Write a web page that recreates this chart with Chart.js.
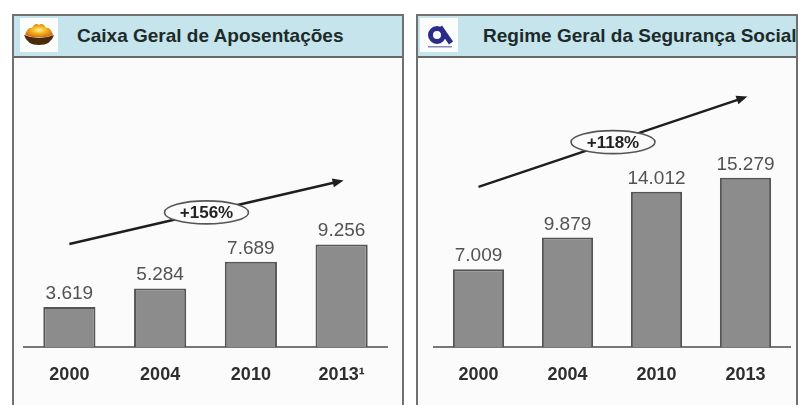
<!DOCTYPE html>
<html>
<head>
<meta charset="utf-8">
<script src="https://cdn.jsdelivr.net/npm/chart.js@4/dist/chart.umd.min.js"></script>
<style>
  body { margin: 0; width: 799px; height: 405px; background: #fff; position: relative; overflow: hidden;
         font-family: "Liberation Sans", Arial, sans-serif; }
  .panel { position: absolute; top: 14px; height: 400px; box-sizing: border-box;
           border: 2px solid #707070; border-bottom: none; background: #fbfbfb; overflow: hidden; }
  .head { position: absolute; left: 0; right: 0; top: 0; height: 42px; box-sizing: border-box;
          background: #c5e4eb; border-bottom: 2px solid #666; }
  .head .ico { position: absolute; left: 6px; top: 2px; width: 38px; height: 34px; background: #fbfdfd; }
  .head .txt { position: absolute; top: 9px; font-weight: bold; font-size: 19px; color: #1d2a2a;
               white-space: nowrap; }
  canvas { position: absolute; }
</style>
</head>
<body>
<div class="panel" style="left:12px; width:392px;">
  <div class="head">
    <svg class="ico" viewBox="0 0 38 34">
      <defs>
        <radialGradient id="g1" cx="50%" cy="45%" r="55%">
          <stop offset="0%" stop-color="#fff6a0"/>
          <stop offset="45%" stop-color="#f6b51e"/>
          <stop offset="100%" stop-color="#d07010"/>
        </radialGradient>
      </defs>
      <path d="M5 17 Q8 8 12 10 Q15 4 19 7 Q23 4 26 10 Q30 8 33 17 Q19 22 5 17 Z" fill="url(#g1)"/>
      <path d="M4 17 Q19 23 34 17 Q31 27 19 27 Q7 27 4 17 Z" fill="#4a2a0a"/>
    </svg>
    <div class="txt" style="left:63px;">Caixa Geral de Aposentações</div>
  </div>
</div>
<div class="panel" style="left:416px; width:382px;">
  <div class="head">
    <svg class="ico" style="left:2px;" viewBox="0 0 38 34">
      <circle cx="17" cy="17" r="6.5" fill="none" stroke="#2b2b88" stroke-width="5"/>
      <path d="M20 9 L31 25" stroke="#2b2b88" stroke-width="5" fill="none"/>
      <rect x="8" y="28" width="24" height="1.5" fill="#8888bb"/>
    </svg>
    <div class="txt" style="left:65px;">Regime Geral da Segurança Social</div>
  </div>
</div>

<canvas id="chartCGA" width="388" height="347" style="left:14px; top:58px;"></canvas>
<canvas id="chartRGSS" width="378" height="347" style="left:418px; top:58px;"></canvas>

<script>
// dados
const anosCGA = ['2000', '2004', '2010', '2013¹'];
const valoresCGA = [3619, 5284, 7689, 9256];
const tendenciaCGA = [9300, 15000];
const crescimentoCGA = '+156%';

const anosRGSS = ['2000', '2004', '2010', '2013'];
const valoresRGSS = [7009, 9879, 14012, 15279];
const tendenciaRGSS = [14450, 22550];
const crescimentoRGSS = '+118%';

const eixoMax = 26000;

function fmt(v) {
	// separador de milhares com ponto
	return v.toLocaleString('de-DE');
}

// desenha rótulos, seta de tendência e elipse
const extras = {
	id: 'extras',
	afterDatasetsDraw(chart, args, opts) {
		const ctx = chart.ctx;
		const meta = chart.getDatasetMeta(0);
		const xs = chart.scales.x, ys = chart.scales.y;

		ctx.save();
		ctx.font = '19px "Liberation Sans", Arial, sans-serif';
		ctx.fillStyle = '#525252';
		ctx.textAlign = 'center';
		ctx.textBaseline = 'alphabetic';
		meta.data.forEach((bar, i) => {
			ctx.fillText(fmt(chart.data.datasets[0].data[i]), bar.x, bar.y - 8);
		});

		// seta
		const n = chart.data.labels.length - 1;
		const x0 = xs.getPixelForValue(0), y0 = ys.getPixelForValue(opts.trend[0]);
		const x1 = xs.getPixelForValue(n), y1 = ys.getPixelForValue(opts.trend[1]);
		const ang = Math.atan2(y1 - y0, x1 - x0);
		ctx.strokeStyle = '#1e1e1e';
		ctx.fillStyle = '#1e1e1e';
		ctx.lineWidth = 2.5;
		ctx.beginPath();
		ctx.moveTo(x0, y0);
		ctx.lineTo(x1 - 6 * Math.cos(ang), y1 - 6 * Math.sin(ang));
		ctx.stroke();
		ctx.beginPath();
		ctx.moveTo(x1 + 2 * Math.cos(ang), y1 + 2 * Math.sin(ang));
		ctx.lineTo(x1 - 9 * Math.cos(ang) - 4.5 * Math.sin(ang), y1 - 9 * Math.sin(ang) + 4.5 * Math.cos(ang));
		ctx.lineTo(x1 - 9 * Math.cos(ang) + 4.5 * Math.sin(ang), y1 - 9 * Math.sin(ang) - 4.5 * Math.cos(ang));
		ctx.closePath();
		ctx.fill();

		// elipse com percentagem
		const cx = (x0 + x1) / 2 + 1, cy = (y0 + y1) / 2;
		ctx.beginPath();
		ctx.ellipse(cx, cy, 42, 11.5, 0, 0, Math.PI * 2);
		ctx.fillStyle = '#fbfbfb';
		ctx.fill();
		ctx.lineWidth = 1.6;
		ctx.strokeStyle = '#555';
		ctx.stroke();
		ctx.fillStyle = '#222';
		ctx.font = 'bold 17px "Liberation Sans", Arial, sans-serif';
		ctx.textBaseline = 'middle';
		ctx.fillText(opts.label, cx, cy + 1);
		ctx.restore();
	}
};

function criarGrafico(id, labels, valores, tendencia, crescimento, pad) {
	const ctx = document.getElementById(id).getContext('2d');
	return new Chart(ctx, {
		type: 'bar',
		data: {
			labels: labels,
			datasets: [{
				data: valores,
				backgroundColor: '#8c8c8c',
				borderColor: '#555',
				borderWidth: 2,
				barPercentage: 0.575,
				categoryPercentage: 1
			}]
		},
		options: {
			responsive: false,
			animation: false,
			layout: { padding: pad },
			scales: {
				x: {
					grid: { display: false, drawTicks: false },
					border: { display: true, color: '#777', width: 2 },
					ticks: {
						color: '#2e2e2e',
						padding: 17,
						font: { family: '"Liberation Sans", Arial, sans-serif', size: 18, weight: 'bold' }
					},
					afterFit: function (scale) { scale.height = 38; }
				},
				y: { display: false, min: 0, max: eixoMax }
			},
			plugins: {
				legend: { display: false },
				tooltip: { enabled: false },
				extras: { trend: tendencia, label: crescimento }
			}
		},
		plugins: [extras]
	});
}

criarGrafico('chartCGA', anosCGA, valoresCGA, tendenciaCGA, crescimentoCGA,
	{ left: 10, right: 15, top: 1, bottom: 20 });
criarGrafico('chartRGSS', anosRGSS, valoresRGSS, tendenciaRGSS, crescimentoRGSS,
	{ left: 16, right: 6, top: 1, bottom: 20 });
</script>
</body>
</html>
